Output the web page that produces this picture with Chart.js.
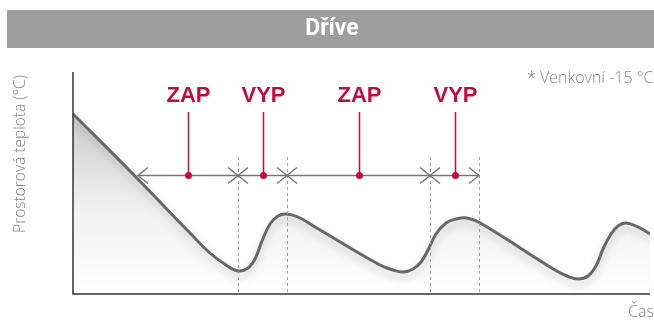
<!DOCTYPE html>
<html>
<head>
<meta charset="utf-8">
<script src="https://cdn.jsdelivr.net/npm/chart.js@4/dist/chart.umd.min.js"></script>
<style>
  html, body { margin: 0; padding: 0; background: #fff; }
  #wrap { width: 654px; height: 320px; position: relative; }
</style>
</head>
<body>
<div id="wrap"><canvas id="c" width="654" height="320"></canvas></div>
<script>
// ---- data (time units, room-temperature units) ----
const timeValues = [0, 57, 117, 137, 153, 165, 175, 182, 189, 197, 205, 213, 225, 242, 307, 320, 330, 340, 348, 355, 363, 373, 383, 394, 409, 482, 494, 505, 515, 523, 530, 538, 545, 553, 565, 577];
const tempValues = [180, 123, 61, 41, 29, 23, 26, 35, 53, 70, 78, 80, 77, 67, 29, 24, 22, 25, 32, 44, 60, 71, 75, 76, 70, 24, 18, 15, 18, 28, 45, 60, 68, 71, 67, 60];
const phaseLabels = ['ZAP', 'VYP', 'ZAP', 'VYP'];
const phaseBounds = [65, 165, 214, 357, 406];
const titleText = 'Dříve';
const yAxisTitle = 'Prostorová teplota (°C)';
const xAxisTitle = 'Čas';
const noteText = '* Venkovní -15 °C';
const arrowLevel = 119;   // temperature level of the arrow row
const dashTop = 137;      // top of the dashed boundary lines
const markerTop = 182;    // top of the red marker lines
const labelLevel = 198;   // label centre level

const points = timeValues.map((t, i) => ({ x: t, y: tempValues[i] }));
const RED = '#c60a3e';

const annot = {
  id: 'annot',
  beforeDraw(chart) {
    const ctx = chart.ctx;
    ctx.save();
    ctx.fillStyle = '#fff';
    ctx.fillRect(0, 0, chart.width, chart.height);
    // title bar
    ctx.fillStyle = '#9d9e9d';
    ctx.fillRect(7, 10, chart.width - 7, 38);
    ctx.fillStyle = '#fff';
    ctx.font = 'bold 23px Roboto, "Liberation Sans", sans-serif';
    ctx.textAlign = 'center';
    ctx.textBaseline = 'middle';
    ctx.fillText(titleText, 332, 29);
    ctx.restore();
  },
  beforeDatasetDraw(chart, args) {
    if (args.index === 0) {
      const ctx = chart.ctx;
      ctx.save();
      ctx.shadowColor = 'rgba(0,0,0,0.22)';
      ctx.shadowBlur = 9;
      ctx.shadowOffsetY = 5;
    }
  },
  afterDatasetDraw(chart, args) {
    if (args.index === 0) chart.ctx.restore();
  },
  afterDraw(chart) {
    const ctx = chart.ctx;
    const xs = chart.scales.x, ys = chart.scales.y;
    const area = chart.chartArea;
    ctx.save();
    // dashed boundaries
    ctx.strokeStyle = '#a0a0a0';
    ctx.lineWidth = 1;
    ctx.setLineDash([3, 3]);
    for (let i = 1; i < phaseBounds.length; i++) {
      const px = Math.round(xs.getPixelForValue(phaseBounds[i])) + 0.5;
      ctx.beginPath();
      ctx.moveTo(px, ys.getPixelForValue(dashTop));
      ctx.lineTo(px, area.bottom);
      ctx.stroke();
    }
    ctx.setLineDash([]);
    // axes
    ctx.strokeStyle = '#333';
    ctx.lineWidth = 1.5;
    ctx.beginPath();
    ctx.moveTo(area.left, area.top);
    ctx.lineTo(area.left, area.bottom);
    ctx.lineTo(area.right, area.bottom);
    ctx.stroke();
    // arrow row
    const ay = Math.round(ys.getPixelForValue(arrowLevel)) + 0.5;
    ctx.strokeStyle = '#777';
    ctx.lineWidth = 1.5;
    const x0 = xs.getPixelForValue(phaseBounds[0]);
    const x1 = xs.getPixelForValue(phaseBounds[phaseBounds.length - 1]);
    ctx.beginPath();
    ctx.moveTo(x0, ay); ctx.lineTo(x1, ay); ctx.stroke();
    for (let i = 0; i < phaseLabels.length; i++) {
      const a = xs.getPixelForValue(phaseBounds[i]);
      const b = xs.getPixelForValue(phaseBounds[i + 1]);
      ctx.beginPath();
      ctx.moveTo(a + 10, ay - 8); ctx.lineTo(a, ay); ctx.lineTo(a + 10, ay + 8);
      ctx.moveTo(b - 10, ay - 8); ctx.lineTo(b, ay); ctx.lineTo(b - 10, ay + 8);
      ctx.stroke();
    }
    // red markers and labels
    ctx.font = 'bold 22px "Liberation Sans", Arial, sans-serif';
    ctx.textAlign = 'center';
    ctx.textBaseline = 'middle';
    for (let i = 0; i < phaseLabels.length; i++) {
      const mid = (phaseBounds[i] + phaseBounds[i + 1]) / 2;
      const px = Math.round(xs.getPixelForValue(mid)) + 0.5;
      ctx.strokeStyle = RED;
      ctx.lineWidth = 1.5;
      ctx.beginPath();
      ctx.moveTo(px, ys.getPixelForValue(markerTop));
      ctx.lineTo(px, ay);
      ctx.stroke();
      ctx.fillStyle = RED;
      ctx.beginPath();
      ctx.arc(px, ay, 3.5, 0, Math.PI * 2);
      ctx.fill();
      ctx.fillText(phaseLabels[i], px, ys.getPixelForValue(labelLevel));
    }
    // texts
    ctx.fillStyle = '#858585';
    ctx.font = '300 16px "Open Sans", Lato, sans-serif';
    ctx.textAlign = 'left';
    ctx.textBaseline = 'alphabetic';
    ctx.fillText(noteText, 527, 83);
    ctx.fillText(xAxisTitle, 628, 317);
    ctx.save();
    ctx.translate(25, 154);
    ctx.rotate(-Math.PI / 2);
    ctx.textAlign = 'center';
    ctx.font = '300 15.5px "Open Sans", Lato, sans-serif';
    ctx.fillText(yAxisTitle, 0, 0);
    ctx.restore();
    ctx.restore();
  }
};

new Chart(document.getElementById('c'), {
  type: 'line',
  data: {
    datasets: [
      {
        data: points,
        borderColor: '#676767',
        borderWidth: 3,
        fill: false,
        pointRadius: 0,
        tension: 0.4,
        order: 1
      },
      {
        data: points,
        borderWidth: 0,
        borderColor: 'rgba(0,0,0,0)',
        pointRadius: 0,
        tension: 0.4,
        fill: 'origin',
        backgroundColor(context) {
          const ch = context.chart;
          const a = ch.chartArea;
          if (!a) return '#e5e5e5';
          const g = ch.ctx.createLinearGradient(0, a.top + 40, 0, a.bottom);
          g.addColorStop(0, 'rgba(200,200,200,0.95)');
          g.addColorStop(0.55, 'rgba(240,240,240,0.9)');
          g.addColorStop(1, 'rgba(255,255,255,1)');
          return g;
        },
        order: 2
      }
    ]
  },
  options: {
    responsive: false,
    animation: false,
    events: [],
    layout: { padding: { left: 73, right: 4, top: 72, bottom: 26 } },
    scales: {
      x: { type: 'linear', min: 0, max: 577, display: false },
      y: { min: 0, max: 222, display: false }
    },
    plugins: { legend: { display: false }, tooltip: { enabled: false } }
  },
  plugins: [annot]
});
</script>
</body>
</html>
